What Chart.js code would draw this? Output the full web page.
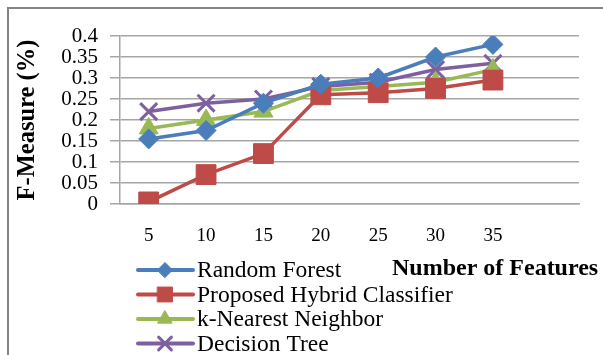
<!DOCTYPE html>
<html>
<head>
<meta charset="utf-8">
<script src="https://cdn.jsdelivr.net/npm/chart.js@4.4.1/dist/chart.umd.min.js"></script>
<style>
  html, body { margin: 0; padding: 0; background: #fff; }
  #wrap { position: relative; width: 603px; height: 355px; }
</style>
</head>
<body>
<div id="wrap"><canvas id="fmChart" width="603" height="355"></canvas></div>
<script>
// data
const categories = ['5', '10', '15', '20', '25', '30', '35', ''];
const randomForest = [0.155, 0.175, 0.24, 0.285, 0.30, 0.35, 0.38];
const hybridClassifier = [0.005, 0.07, 0.12, 0.26, 0.265, 0.275, 0.295];
const kNearest = [0.18, 0.20, 0.22, 0.27, 0.28, 0.29, 0.32];
const decisionTree = [0.22, 0.24, 0.25, 0.28, 0.29, 0.32, 0.335];
const yTickLabels = ['0', '0.05', '0.1', '0.15', '0.2', '0.25', '0.3', '0.35', '0.4'];

const serif = "'Liberation Serif', 'Times New Roman', serif";

const series = [
  { label: 'Random Forest', data: randomForest, color: '#4A7EBB', style: 'rectRot', r: 10, bw: 1 },
  { label: 'Proposed Hybrid Classifier', data: hybridClassifier, color: '#BE4B48', style: 'rect', r: 14, bw: 1 },
  { label: 'k-Nearest Neighbor', data: kNearest, color: '#98B954', style: 'triangle', r: 11, bw: 1 },
  { label: 'Decision Tree', data: decisionTree, color: '#7D60A0', style: 'crossRot', r: 12, bw: 3 }
];

/* border, legend and x title */
const decor = {
  id: 'decor',
  beforeDraw(chart) {
    const ctx = chart.ctx;
    ctx.save();
    ctx.fillStyle = '#fff';
    ctx.fillRect(0, 0, chart.width, chart.height);
    ctx.strokeStyle = '#858585';
    ctx.lineWidth = 2;
    ctx.beginPath();
    ctx.moveTo(8, chart.height);
    ctx.lineTo(8, 8);
    ctx.lineTo(chart.width, 8);
    ctx.stroke();
    ctx.restore();
  },
  afterDraw(chart) {
    const ctx = chart.ctx;
    ctx.save();
    chart.data.datasets.forEach((ds, i) => {
      const y = 270 + i * 24.5;
      ctx.strokeStyle = ds.borderColor;
      ctx.lineWidth = 4;
      ctx.lineCap = 'round';
      ctx.beginPath();
      ctx.moveTo(138, y);
      ctx.lineTo(193, y);
      ctx.stroke();
      ctx.fillStyle = ds.pointBackgroundColor;
      ctx.strokeStyle = ds.pointBorderColor;
      ctx.lineWidth = ds.pointBorderWidth;
      Chart.helpers.drawPoint(ctx, {
        pointStyle: ds.pointStyle,
        radius: ds.pointRadius * 0.75,
        borderWidth: ds.pointBorderWidth,
        rotation: 0
      }, 165, y);
      ctx.fillStyle = '#000';
      ctx.font = '23.5px ' + serif;
      ctx.textAlign = 'left';
      ctx.textBaseline = 'middle';
      ctx.fillText(ds.label, 197, y + 1);
    });
    ctx.font = 'bold 24px ' + serif;
    ctx.fillText('Number of Features', 392, 269);
    ctx.restore();
  }
};

const ctx = document.getElementById('fmChart').getContext('2d');

const fmChart = new Chart(ctx, {
  type: 'line',
  data: {
    labels: categories,
    datasets: series.map(s => ({
      label: s.label,
      data: s.data,
      borderColor: s.color,
      backgroundColor: s.color,
      borderWidth: 3.5,
      tension: 0,
      pointStyle: s.style,
      pointRadius: s.r,
      pointHoverRadius: s.r,
      pointBackgroundColor: s.color,
      pointBorderColor: s.color,
      pointBorderWidth: s.bw
    }))
  },
  options: {
    responsive: false,
    animation: false,
    events: [],
    layout: { padding: { left: 0, right: 24, top: 36, bottom: 106 } },
    plugins: {
      legend: { display: false },
      tooltip: { enabled: false }
    },
    scales: {
      x: {
        offset: true,
        grid: { display: false, drawTicks: false, tickLength: 0 },
        border: { display: true, color: '#a6a6a6', width: 1.5 },
        ticks: {
          autoSkip: false,
          maxRotation: 0,
          padding: 21,
          color: '#000',
          font: { family: serif, size: 19 }
        },
        afterFit(scale) { scale.height = 45; }
      },
      y: {
        min: 0,
        max: 0.4,
        grid: { color: '#a6a6a6', lineWidth: 1.5, tickLength: 10 },
        border: { display: true, color: '#a6a6a6', width: 1.5 },
        ticks: {
          stepSize: 0.05,
          autoSkip: false,
          padding: 12,
          color: '#000',
          font: { family: serif, size: 21 },
          callback: (value, index) => yTickLabels[index]
        },
        title: {
          display: true,
          text: 'F-Measure (%)',
          color: '#000',
          padding: { top: 13, bottom: 0 },
          font: { family: serif, size: 24.5, weight: 'bold' }
        },
        afterFit(scale) { scale.width = 120; }
      }
    }
  },
  plugins: [decor]
});
</script>
</body>
</html>
